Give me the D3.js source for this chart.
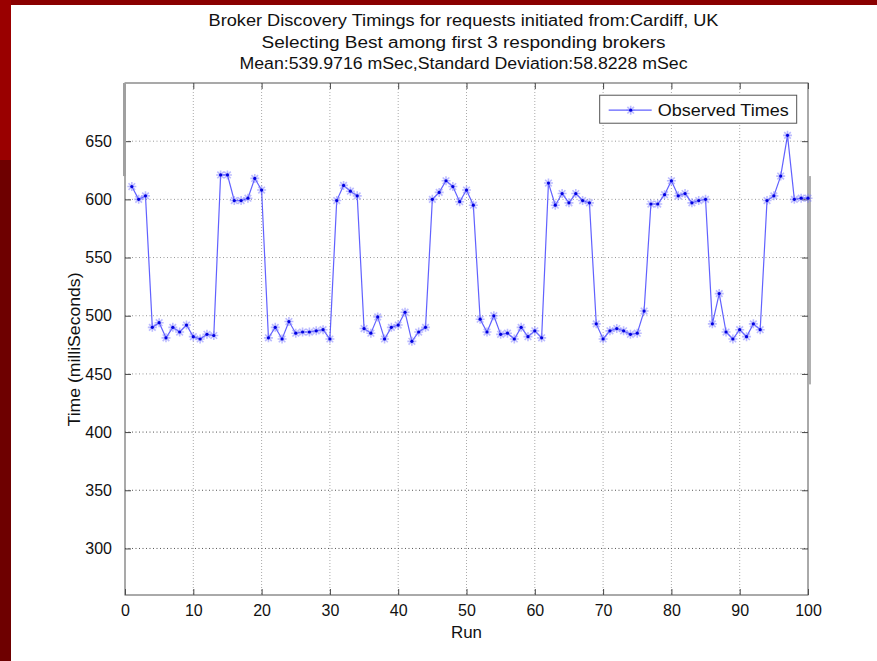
<!DOCTYPE html>
<html>
<head>
<meta charset="utf-8">
<script src="https://cdn.jsdelivr.net/npm/d3@7"></script>
<style>
  body { margin: 0; background: #fff; }
  text { font-family: Arial, "Liberation Sans", sans-serif; fill: #111; }
  .narrow { font-family: "Liberation Sans Narrow", "Arial Narrow", Arial, sans-serif; }
</style>
</head>
<body>
<div id="chart"></div>
<script>
// chart data
var titleLines = [
  "Broker Discovery Timings for requests initiated from:Cardiff, UK",
  "Selecting Best among first 3 responding brokers",
  "Mean:539.9716 mSec,Standard Deviation:58.8228 mSec"
];
var xTicks = [0, 10, 20, 30, 40, 50, 60, 70, 80, 90, 100];
var yTicks = [300, 350, 400, 450, 500, 550, 600, 650];
var seriesName = "Observed Times";
// observed time (ms) for runs 1..100
var times = [
  611, 600, 603, 490, 494, 481, 490, 486, 492, 482,
  480, 484, 483, 621, 621, 599, 599, 601, 618, 608,
  481, 490, 480, 495, 485, 486, 486, 487, 488, 480,
  599, 612, 607, 603, 489, 485, 499, 480, 490, 492,
  503, 478, 486, 490, 600, 606, 616, 611, 598, 608,
  595, 497, 486, 500, 484, 485, 480, 490, 482, 487,
  481, 614, 595, 605, 597, 605, 599, 597, 493, 480,
  487, 489, 487, 484, 485, 504, 596, 596, 604, 616,
  603, 605, 597, 599, 600, 493, 519, 486, 480, 488,
  482, 493, 488, 599, 603, 620, 655, 600, 601, 601
];

var svgWidth = 877;
var svgHeight = 661;

var margin = { top: 83, right: 69, bottom: 66, left: 125 };
var width = svgWidth - margin.left - margin.right;
var height = svgHeight - margin.top - margin.bottom;

var svg = d3.select("#chart")
  .append("svg")
  .attr("width", svgWidth)
  .attr("height", svgHeight);

// slide background: red frame on top and left
svg.append("rect").attr("width", svgWidth).attr("height", svgHeight).attr("fill", "#fff");
svg.append("rect").attr("x", 0).attr("y", 0).attr("width", svgWidth).attr("height", 5).attr("fill", "#8a0000");
svg.append("rect").attr("x", 0).attr("y", 0).attr("width", 11).attr("height", 160).attr("fill", "#9a0000");
svg.append("rect").attr("x", 0).attr("y", 160).attr("width", 11).attr("height", svgHeight - 160).attr("fill", "#6e0000");

var chartGroup = svg.append("g")
  .attr("transform", `translate(${margin.left}, ${margin.top})`);

var xScale = d3.scaleLinear().domain([0, 100]).range([0, width]);
var yScale = d3.scaleLinear().domain([260, 700]).range([height, 0]);

// grid
chartGroup.selectAll(".vgrid")
  .data(xTicks.slice(1, -1))
  .enter()
  .append("line")
  .attr("x1", d => xScale(d)).attr("x2", d => xScale(d))
  .attr("y1", 0).attr("y2", height)
  .attr("stroke", "#aaa")
  .attr("stroke-width", 1)
  .attr("stroke-dasharray", "1,2");

chartGroup.selectAll(".hgrid")
  .data(yTicks)
  .enter()
  .append("line")
  .attr("x1", 0).attr("x2", width)
  .attr("y1", d => yScale(d)).attr("y2", d => yScale(d))
  .attr("stroke", d => d < 450 ? "#555" : "#999")
  .attr("stroke-width", 1)
  .attr("stroke-dasharray", "1,2.5");

// axes, ticks pointing inward like matlab
var bottomAxis = d3.axisBottom(xScale).tickValues(xTicks).tickSizeInner(-6).tickSizeOuter(0).tickPadding(10);
var topAxis = d3.axisTop(xScale).tickValues(xTicks).tickSizeInner(-6).tickSizeOuter(0).tickFormat("");
var leftAxis = d3.axisLeft(yScale).tickValues(yTicks).tickSizeInner(-6).tickSizeOuter(0).tickPadding(13);
var rightAxis = d3.axisRight(yScale).tickValues(yTicks).tickSizeInner(-6).tickSizeOuter(0).tickFormat("");

function styleAxis(g) {
  g.select(".domain").remove();
  g.selectAll(".tick line").attr("stroke", "#444");
  g.selectAll(".tick text")
    .attr("font-size", 16)
    .attr("font-family", "Arial, 'Liberation Sans', sans-serif")
    .attr("fill", "#111");
}

chartGroup.append("g").attr("transform", `translate(0, ${height})`).call(bottomAxis).call(styleAxis);
chartGroup.append("g").call(topAxis).call(styleAxis);
chartGroup.append("g").call(leftAxis).call(styleAxis);
chartGroup.append("g").attr("transform", `translate(${width}, 0)`).call(rightAxis).call(styleAxis);

chartGroup.append("rect")
  .attr("width", width)
  .attr("height", height)
  .attr("fill", "none")
  .attr("stroke", "#555")
  .attr("stroke-width", 1);

// pasted-image seams seen on the original figure
chartGroup.append("rect")
  .attr("x", -2).attr("y", yScale(700))
  .attr("width", 3).attr("height", yScale(620) - yScale(700))
  .attr("fill", "#a0a0a0");
chartGroup.append("rect")
  .attr("x", width + 1).attr("y", yScale(620))
  .attr("width", 2).attr("height", yScale(441) - yScale(620))
  .attr("fill", "#b0b0b0");

// series
var line = d3.line()
  .x((d, i) => xScale(i + 1))
  .y(d => yScale(d));

chartGroup.append("path")
  .datum(times)
  .attr("d", line)
  .attr("fill", "none")
  .attr("stroke", "#3a3aff")
  .attr("stroke-width", 1.2)
  .attr("stroke-opacity", 0.8);

var star = "M-4.5,0H4.5M0,-4.5V4.5M-3.3,-3.3L3.3,3.3M-3.3,3.3L3.3,-3.3";

var markers = chartGroup.selectAll(".pt")
  .data(times)
  .enter()
  .append("g")
  .attr("transform", (d, i) => `translate(${xScale(i + 1)}, ${yScale(d)})`);

markers.append("path")
  .attr("d", star)
  .attr("stroke", "#7a7aff")
  .attr("stroke-width", 1.6)
  .attr("stroke-opacity", 0.5)
  .attr("fill", "none");
markers.append("circle")
  .attr("r", 1.6)
  .attr("fill", "#0000e0");

// legend
var legend = chartGroup.append("g")
  .attr("transform", `translate(${xScale(69.5)}, ${yScale(689.5)})`);
legend.append("rect")
  .attr("width", 197).attr("height", 28)
  .attr("fill", "#fff")
  .attr("stroke", "#555");
legend.append("line")
  .attr("x1", 9).attr("x2", 52).attr("y1", 15).attr("y2", 15)
  .attr("stroke", "#3a3aff").attr("stroke-opacity", 0.8).attr("stroke-width", 1.2);
legend.append("path")
  .attr("d", star)
  .attr("transform", "translate(31,15)")
  .attr("stroke", "#7a7aff").attr("stroke-width", 1.6).attr("stroke-opacity", 0.5).attr("fill", "none");
legend.append("circle").attr("cx", 31).attr("cy", 15).attr("r", 1.6).attr("fill", "#0000e0");
legend.append("text")
  .attr("x", 58).attr("y", 21)
  .attr("font-size", 17)
  .attr("textLength", 131)
  .attr("lengthAdjust", "spacingAndGlyphs")
  .text(seriesName);

// title
var titleWidths = [510, 404, 448];
svg.selectAll(".title")
  .data(titleLines)
  .enter()
  .append("text")
  .attr("class", "narrow")
  .attr("x", margin.left + width / 2 - 3)
  .attr("y", (d, i) => 26 + i * 21.5)
  .attr("text-anchor", "middle")
  .attr("font-size", 16)
  .attr("textLength", (d, i) => titleWidths[i])
  .attr("lengthAdjust", "spacingAndGlyphs")
  .text(d => d);

// axis labels
chartGroup.append("text")
  .attr("transform", "rotate(-90)")
  .attr("class", "narrow")
  .attr("x", -(yScale(471)))
  .attr("y", -45)
  .attr("text-anchor", "middle")
  .attr("font-size", 17)
  .attr("textLength", 154)
  .attr("lengthAdjust", "spacingAndGlyphs")
  .text("Time (milliSeconds)");

chartGroup.append("text")
  .attr("class", "narrow")
  .attr("x", width / 2)
  .attr("y", height + 43)
  .attr("text-anchor", "middle")
  .attr("font-size", 17)
  .attr("textLength", 31)
  .attr("lengthAdjust", "spacingAndGlyphs")
  .text("Run");
</script>
</body>
</html>
